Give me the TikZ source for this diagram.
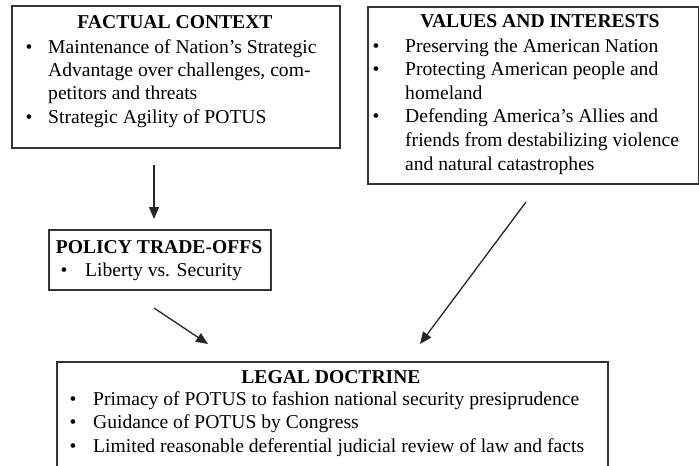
\documentclass[tikz,border=0pt]{standalone}
\usepackage{fontspec}
\setmainfont{Liberation Serif}
\usetikzlibrary{arrows.meta}
\begin{document}
\begin{tikzpicture}[x=1pt,y=-1pt,
  box/.style={draw=black!80, line width=1.6pt, inner sep=0pt, anchor=north west},
  txt/.style={anchor=base west, inner sep=0pt, font=\fontsize{19.6}{23.5}\selectfont},
  ttl/.style={anchor=base, inner sep=0pt, font=\fontsize{19.6}{23.5}\selectfont\bfseries},
  bul/.style={anchor=base, inner sep=0pt, font=\fontsize{19.6}{23.5}\selectfont},
  conn/.style={draw=black!85, line width=1.3pt, -{Triangle[length=12pt,width=10pt]}}]
\useasboundingbox (0,0) rectangle (699,466);
\clip (0,0) rectangle (699,466);
% boxes
\node[box, minimum width=328pt, minimum height=142pt] (fact) at (11,5) {};
\node[box, minimum width=331pt, minimum height=177pt] (vals) at (367,6) {};
\node[box, minimum width=222pt, minimum height=60pt] (pol) at (48,229) {};
\node[box, minimum width=551pt, minimum height=120pt] (legal) at (56,361) {};
% factual context
\node[ttl] (factT) at (175,28) {FACTUAL CONTEXT};
\node[bul] (fb1) at (29,53) {\textbullet};
\node[txt] (f1) at (48,53) {Maintenance of Nation’s Strategic};
\node[txt] (f2) at (48,76) {Advantage over challenges, com-};
\node[txt] (f3) at (48,99) {petitors and threats};
\node[bul] (fb2) at (29,123) {\textbullet};
\node[txt] (f4) at (48,123) {Strategic Agility of POTUS};
% values and interests
\node[ttl] (valT) at (540,27) {VALUES AND INTERESTS};
\node[bul] (vb1) at (376,52) {\textbullet};
\node[txt] (v1) at (405,52) {Preserving the American Nation};
\node[bul] (vb2) at (376,75) {\textbullet};
\node[txt] (v2) at (405,75) {Protecting American people and};
\node[txt] (v3) at (405,99) {homeland};
\node[bul] (vb3) at (376,122) {\textbullet};
\node[txt] (v4) at (405,122) {Defending America’s Allies and};
\node[txt] (v5) at (405,146) {friends from destabilizing violence};
\node[txt] (v6) at (405,170) {and natural catastrophes};
% policy trade-offs
\node[ttl] (polT) at (159,253) {POLICY TRADE-OFFS};
\node[bul] (pb1) at (64,276) {\textbullet};
\node[txt] (p1) at (85,276) {Liberty vs. Security};
% legal doctrine
\node[ttl] (legT) at (331,383) {LEGAL DOCTRINE};
\node[bul] (lb1) at (73,405) {\textbullet};
\node[txt] (l1) at (93,405) {Primacy of POTUS to fashion national security presiprudence};
\node[bul] (lb2) at (73,428) {\textbullet};
\node[txt] (l2) at (93,428) {Guidance of POTUS by Congress};
\node[bul] (lb3) at (73,452) {\textbullet};
\node[txt] (l3) at (93,452) {Limited reasonable deferential judicial review of law and facts};
% connectors
\coordinate (a1s) at (154,165);
\coordinate (a1e) at (154,219);
\coordinate (a2s) at (154,308);
\coordinate (a2e) at (208,344);
\coordinate (a3s) at (526,202);
\coordinate (a3e) at (420,344);
\draw[conn] (a1s) -- (a1e);
\draw[conn] (a2s) -- (a2e);
\draw[conn] (a3s) -- (a3e);
\end{tikzpicture}
\end{document}
